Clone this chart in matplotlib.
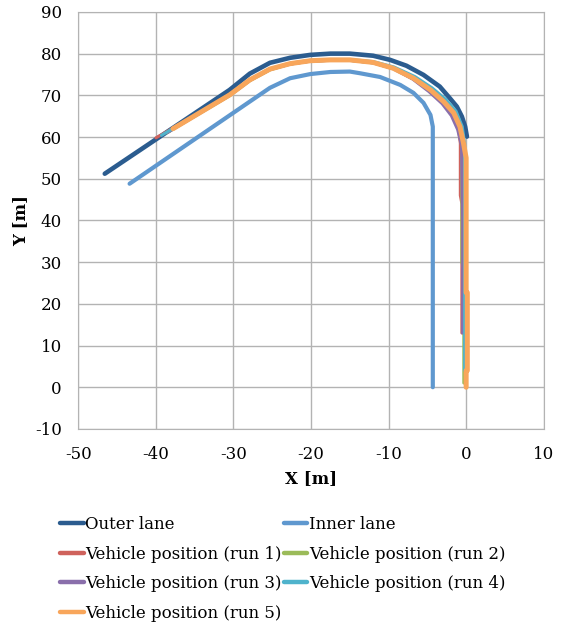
import matplotlib
matplotlib.use("Agg")
import matplotlib.pyplot as plt

plt.rcParams['font.family'] = ['DejaVu Serif']
plt.rcParams['axes.unicode_minus'] = False

# lane edges
x_outer = [-46.6, -30.5, -27.9, -25.3, -22.7, -20.1, -17.5, -15.0, -12.0, -9.8, -7.7, -5.5, -3.4, -2.1, -1.2, -0.55, -0.13, 0.1]
y_outer = [51.2, 71.3, 75.2, 77.8, 79.0, 79.7, 80.0, 80.0, 79.5, 78.5, 77.1, 74.9, 72.1, 69.3, 67.3, 64.9, 62.5, 60.1]

x_inner = [-43.4, -27.9, -25.3, -22.7, -20.1, -17.5, -15.0, -13.7, -11.1, -8.5, -6.8, -5.5, -4.6, -4.3, -4.3]
y_inner = [48.8, 68.5, 71.8, 74.1, 75.1, 75.6, 75.7, 75.3, 74.4, 72.5, 70.6, 68.2, 65.3, 62.5, 0.0]

# vehicle runs
x_run1 = [-40.0, -30.5, -27.9, -25.3, -22.7, -20.1, -17.5, -15.0, -12.0, -9.4, -6.8, -4.7, -3.0, -1.8, -1.0, -0.75, -0.75, -0.55, -0.55]
y_run1 = [59.8, 70.0, 73.6, 76.2, 77.5, 78.2, 78.4, 78.4, 77.8, 76.4, 73.9, 71.0, 68.2, 65.4, 62.0, 58.5, 46.0, 44.0, 13.0]

x_run2 = [-38.6, -30.5, -27.9, -25.3, -22.7, -20.1, -17.5, -15.0, -12.0, -9.4, -6.8, -4.6, -2.9, -1.7, -0.9, -0.55, -0.55, -0.3, -0.3]
y_run2 = [61.0, 69.9, 73.5, 76.1, 77.5, 78.2, 78.4, 78.4, 77.8, 76.4, 74.0, 71.2, 68.4, 65.6, 62.3, 58.5, 30.0, 28.0, 1.0]

x_run3 = [-38.5, -30.5, -27.9, -25.3, -22.7, -20.1, -17.5, -15.0, -12.0, -9.4, -6.9, -4.8, -3.1, -1.9, -1.1, -0.6, -0.45, -0.45]
y_run3 = [61.1, 70.0, 73.6, 76.2, 77.5, 78.2, 78.4, 78.4, 77.8, 76.4, 73.9, 70.9, 68.0, 65.1, 61.8, 58.0, 40.0, 13.0]

x_run4 = [-39.3, -30.5, -27.9, -25.3, -22.7, -20.1, -17.5, -15.0, -12.0, -9.3, -6.6, -4.4, -2.6, -1.3, -0.5, -0.2, -0.2, -0.2]
y_run4 = [60.4, 70.2, 73.8, 76.4, 77.7, 78.4, 78.6, 78.6, 78.1, 76.8, 74.5, 71.8, 69.0, 66.2, 62.5, 58.5, 22.7, 4.0]

x_run5 = [-37.8, -30.5, -27.9, -25.3, -22.7, -20.1, -17.5, -15.0, -12.0, -9.4, -6.8, -4.6, -2.9, -1.6, -0.8, -0.35, 0.0, 0.0, 0.15, 0.15, 0.0, 0.0]
y_run5 = [62.0, 70.1, 73.7, 76.3, 77.6, 78.3, 78.5, 78.5, 77.9, 76.5, 74.1, 71.3, 68.5, 65.8, 62.5, 58.6, 55.0, 22.7, 22.7, 4.0, 4.0, 0.0]

series = [
    ("Outer lane", x_outer, y_outer, '#2b5c8f', 3.3),
    ("Inner lane", x_inner, y_inner, '#5f98cf', 3.0),
    ("Vehicle position (run 1)", x_run1, y_run1, '#cf625c', 2.2),
    ("Vehicle position (run 2)", x_run2, y_run2, '#9bbb59', 2.2),
    ("Vehicle position (run 3)", x_run3, y_run3, '#8a6fab', 2.2),
    ("Vehicle position (run 4)", x_run4, y_run4, '#4fb3cc', 2.2),
    ("Vehicle position (run 5)", x_run5, y_run5, '#f8a65b', 3.6),
]

fig = plt.figure(figsize=(5.64, 6.28), dpi=100)
ax = fig.add_axes([0.139, 0.317, 0.825, 0.664])

for label, xs, ys, color, lw in series:
    ax.plot(xs, ys, color=color, lw=lw, label=label,
            solid_capstyle='round', solid_joinstyle='round')

ax.set_xlim(-50, 10)
ax.set_ylim(-10, 90)
ax.set_xticks(range(-50, 11, 10))
ax.set_yticks(range(-10, 91, 10))
ax.grid(True, color='#b3b3b3', lw=1)
ax.set_axisbelow(True)
for sp in ax.spines.values():
    sp.set_color('#b3b3b3')
ax.tick_params(length=0, labelsize=12)
ax.tick_params(axis='x', pad=12)
ax.tick_params(axis='y', pad=12)

ax.set_xlabel("X [m]", fontsize=12, fontweight='bold', labelpad=5)
ax.set_ylabel("Y [m]", fontsize=12, fontweight='bold', labelpad=4)

# legend fills row by row like the original
handles, labels = ax.get_legend_handles_labels()
order = [0, 2, 4, 6, 1, 3, 5]
leg = fig.legend([handles[i] for i in order], [labels[i] for i in order],
                 loc='upper left', bbox_to_anchor=(0.107, 0.178),
                 ncol=2, frameon=False, fontsize=12, handlelength=1.4,
                 handletextpad=0.08, columnspacing=0.15, labelspacing=0.75,
                 borderaxespad=0, borderpad=0)
for line in leg.get_lines():
    line.set_linewidth(3.2)
    line.set_solid_capstyle('round')

fig.savefig("out.png", dpi=100)
